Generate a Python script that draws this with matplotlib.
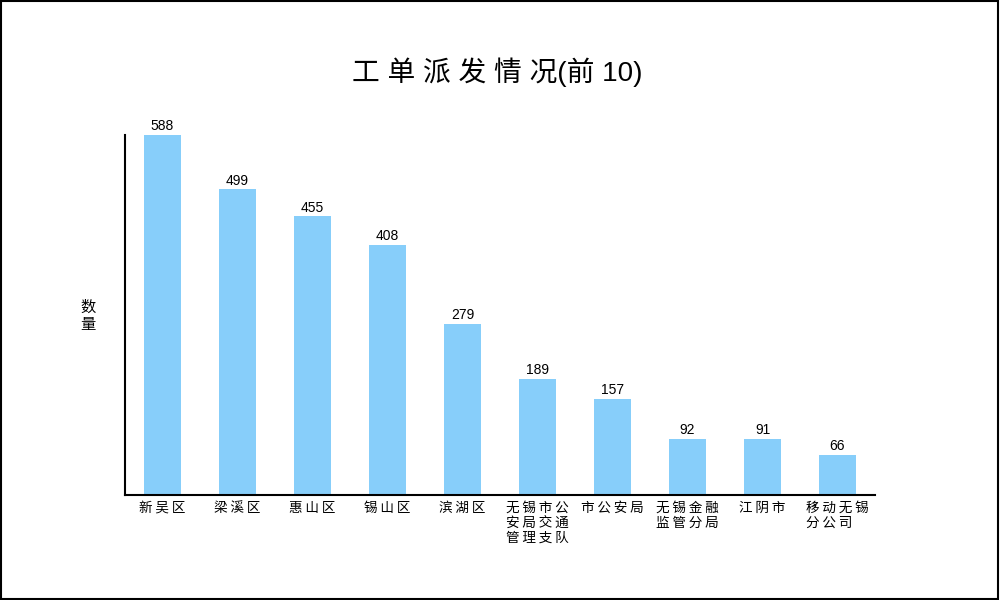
import matplotlib.pyplot as plt
from matplotlib.patches import Rectangle

plt.rcParams['font.family'] = ['Noto Sans CJK SC', 'DejaVu Sans']

# data
categories = ['新吴区', '梁溪区', '惠山区', '锡山区', '滨湖区',
              '无锡市公\n安局交通\n管理支队', '市公安局', '无锡金融\n监管分局',
              '江阴市', '移动无锡\n分公司']
counts = [588, 499, 455, 408, 279, 189, 157, 92, 91, 66]
title = '工单派发情况(前10)'


def spaced(s, gap):
    # the reference font leaves a small gap between CJK characters
    return '\n'.join(gap.join(line) for line in s.split('\n'))


fig = plt.figure(figsize=(10, 6), dpi=100)
ax = fig.add_axes([0.125, 0.175, 0.75, 0.6])

x = range(len(categories))
bars = ax.bar(x, counts, width=0.5, color='#87CEFA')

for b, v in zip(bars, counts):
    ax.text(b.get_x() + b.get_width() / 2, v + 3, str(v),
            ha='center', va='bottom', fontsize=10, family='Liberation Sans')

ax.set_xlim(-0.5, 9.5)
ax.set_ylim(0, 588)
ax.set_xticks(list(x))
ax.set_xticklabels([spaced(c, '\u2009') for c in categories], fontsize=9.8,
                   va='top', multialignment='left', linespacing=1.08)
ax.tick_params(axis='x', length=0, pad=4)
ax.set_yticks([])

for s in ['top', 'right']:
    ax.spines[s].set_visible(False)
ax.spines['left'].set_linewidth(1.5)
ax.spines['bottom'].set_linewidth(1.5)

ax.set_ylabel('数\n量', rotation=0, fontsize=11, va='center', ha='center',
              linespacing=1.0)
ax.yaxis.set_label_coords(-37 / 750, (495 - 316) / 360)

title_txt = ' '.join(title[:6]) + title[6:8] + ' ' + title[8:]
fig.text(0.497, 0.88, title_txt, ha='center', va='center', fontsize=20,
         family=['Liberation Sans', 'Noto Sans CJK SC'])

# frame around the whole picture
fig.patches.append(Rectangle((0.001, 0.002), 0.997, 0.996, transform=fig.transFigure,
                             fill=False, edgecolor='black', linewidth=1.5))

fig.savefig('out.png', dpi=100)
